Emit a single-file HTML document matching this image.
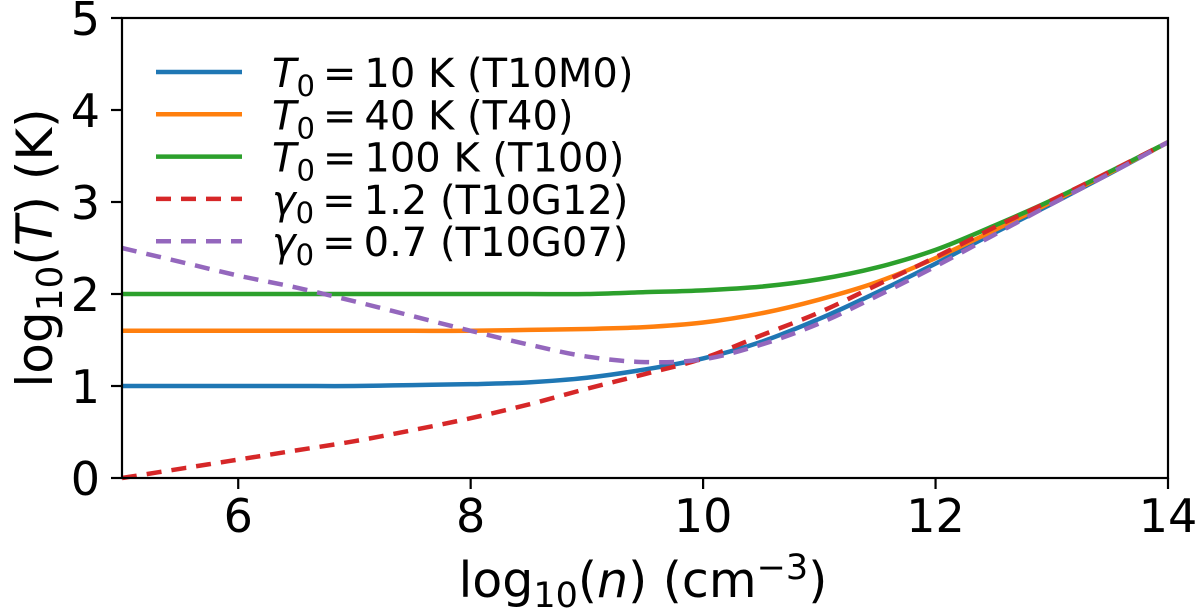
<!DOCTYPE html>
<html><head><meta charset="utf-8"><style>
body{margin:0;background:#fff;}
svg{display:block;font-family:"DejaVu Sans","Liberation Sans",sans-serif;}
</style></head><body>
<svg id="chart" width="1200" height="614">
<g id="series"></g>
<rect x="122" y="18" width="1046" height="460" fill="none" stroke="#000" stroke-width="2.2"/>
<g id="axes"></g>
<text x="643" y="597" font-size="49" text-anchor="middle">log<tspan font-size="35" dy="10">10</tspan><tspan dy="-10">(</tspan><tspan font-style="italic">n</tspan>) (cm<tspan font-size="35" dy="-18">−3</tspan><tspan dy="18">)</tspan></text>
<text transform="translate(52,248) rotate(-90)" font-size="50" text-anchor="middle">log<tspan font-size="36" dy="10">10</tspan><tspan dy="-10">(</tspan><tspan font-style="italic">T</tspan>) (K)</text>
<g id="legend"></g>
</svg>
<script>
const xs=[5,5.5,6,6.5,7,7.5,8,8.5,9,9.5,10,10.5,11,11.5,12,12.5,13,13.5,14];
const blue=[1,1,1,1,1,1.01,1.02,1.04,1.09,1.18,1.30,1.48,1.73,2.02,2.33,2.66,2.98,3.31,3.65];
const orange=[1.6,1.6,1.6,1.6,1.6,1.6,1.6,1.61,1.62,1.64,1.69,1.79,1.94,2.13,2.39,2.69,3.0,3.32,3.65];
const green=[2,2,2,2,2,2,2,2,2,2.02,2.04,2.08,2.16,2.29,2.48,2.74,3.02,3.33,3.65];
const red=[0,0.1,0.2,0.3,0.4,0.52,0.65,0.8,0.97,1.13,1.30,1.55,1.8,2.1,2.4,2.72,3.02,3.33,3.65];
const purple=[2.5,2.35,2.2,2.07,1.92,1.76,1.6,1.45,1.32,1.26,1.29,1.45,1.68,1.98,2.3,2.64,2.98,3.31,3.65];
const xTicks=[6,8,10,12,14];
const yTicks=[0,1,2,3,4,5];
const labels=["T10M0","T40","T100","T10G12","T10G07"];
const NS="http://www.w3.org/2000/svg";
const X=v=>122+(v-5)*1046/9, Y=v=>478-v*92;
function el(t,a,p){const e=document.createElementNS(NS,t);for(const k in a)e.setAttribute(k,a[k]);p.appendChild(e);return e;}
function smooth(pts){let d='M'+pts[0][0]+','+pts[0][1];for(let i=0;i<pts.length-1;i++){const p0=pts[i-1]||pts[i],p1=pts[i],p2=pts[i+1],p3=pts[i+2]||p2;d+=' C'+(p1[0]+(p2[0]-p0[0])/6)+','+(p1[1]+(p2[1]-p0[1])/6)+' '+(p2[0]-(p3[0]-p1[0])/6)+','+(p2[1]-(p3[1]-p1[1])/6)+' '+p2[0]+','+p2[1];}return d;}
const sg=document.getElementById('series');
const defs=[[blue,'#1f77b4',null,'series-t10m0'],[orange,'#ff7f0e',null,'series-t40'],[green,'#2ca02c',null,'series-t100'],[red,'#d62728','15 10','series-t10g12'],[purple,'#9467bd','15 10','series-t10g07']];
defs.forEach(([d,c,da,n])=>{
 const p=el('path',{d:smooth(xs.map((x,i)=>[X(x),Y(d[i])])),fill:'none',stroke:c,'stroke-width':4.5,'stroke-linejoin':'round'},sg);
 if(da)p.setAttribute('stroke-dasharray',da);
 
 
});
const ag=document.getElementById('axes');
xTicks.forEach(t=>{
 const l=el('line',{x1:X(t),x2:X(t),y1:478,y2:489,stroke:'#000','stroke-width':2.2},ag);
 
 
 const tx=el('text',{x:X(t),y:532,'font-size':46,'text-anchor':'middle'},ag);tx.textContent=t;
 
 
});
yTicks.forEach(t=>{
 const l=el('line',{x1:111,x2:122,y1:Y(t),y2:Y(t),stroke:'#000','stroke-width':2.2},ag);
 
 
 const tx=el('text',{x:100,y:Y(t)+17,'font-size':46,'text-anchor':'end'},ag);tx.textContent=t;
 
 
});
const lg=document.getElementById('legend');
const pre=[['T','10 K'],['T','40 K'],['T','100 K'],['γ','1.2'],['γ','0.7']];
defs.forEach(([d,c,da,n],i)=>{
 const y=72+i*42.3;
 const l=el('line',{x1:156,x2:242,y1:y,y2:y,stroke:c,'stroke-width':4.5},lg);
 if(da)l.setAttribute('stroke-dasharray',da);
 
 
 const t=el('text',{x:272,y:y+15,'font-size':40},lg);
 t.innerHTML='<tspan font-style="italic">'+pre[i][0]+'</tspan><tspan font-size="29" dy="9">0</tspan><tspan dy="-9" dx="8">=</tspan><tspan dx="8">'+pre[i][1]+' ('+labels[i]+')</tspan>';
 
 
});
</script>
</body></html>
